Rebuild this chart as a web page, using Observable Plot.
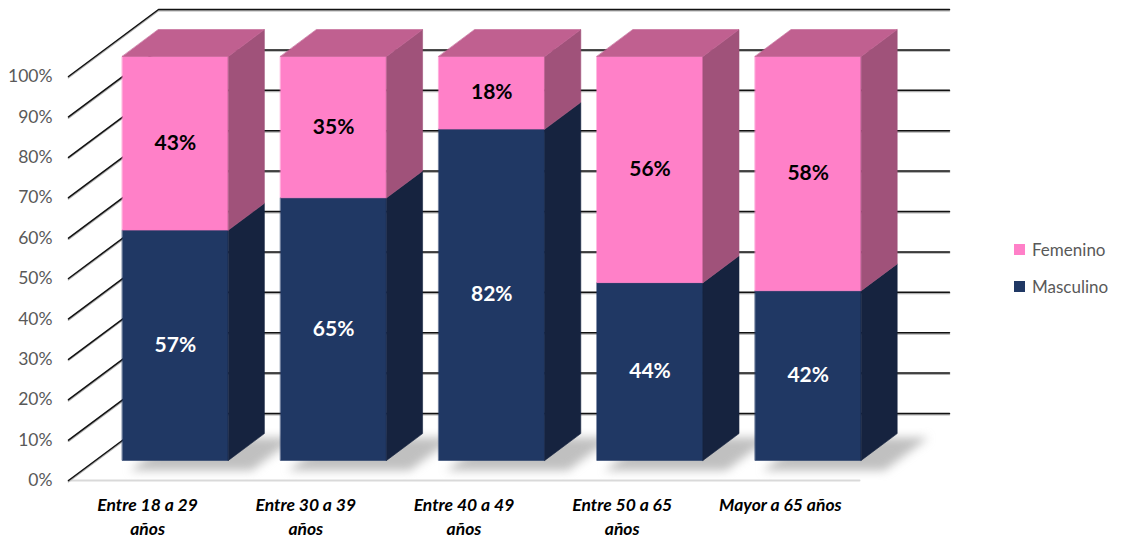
<!DOCTYPE html>
<html>
<head>
<meta charset="utf-8">
<script src="https://cdn.jsdelivr.net/npm/d3@7"></script>
<script src="https://cdn.jsdelivr.net/npm/@observablehq/plot@0.6"></script>
<style>
  html, body { margin: 0; padding: 0; background: #fff; }
  #wrap { position: relative; width: 1121px; height: 540px; font-family: Lato, "Open Sans", sans-serif; }
  #legend { position: absolute; left: 1014px; top: 239px; color: #595959; font-size: 17px; }
  #legend .item { display: flex; align-items: center; height: 20px; margin-bottom: 17px; }
  #legend .sw { width: 11px; height: 11px; margin-right: 7px; }
</style>
</head>
<body>
<div id="wrap">
  <div id="chart"></div>
  <div id="legend"></div>
</div>
<script>
// ---- data ----
const categories = ["Entre 18 a 29\naños", "Entre 30 a 39\naños", "Entre 40 a 49\naños", "Entre 50 a 65\naños", "Mayor a 65 años"];
const masculino = [57, 65, 82, 44, 42];
const femenino = [43, 35, 18, 56, 58];
const yTicks = [0, 10, 20, 30, 40, 50, 60, 70, 80, 90, 100];
const seriesNames = ["Femenino", "Masculino"];
const palette = {
  Femenino: {front: "#FF80C8", side: "#A0527A", top: "#C06090"},
  Masculino: {front: "#203864", side: "#16233F", top: "#2B4A80"}
};

// ---- 3D projection helpers (depth expressed in data units) ----
const DX = 90 / 158.2;   // x shift of full depth (category units)
const DY = 67 / 4.04;    // y shift of full depth (percent units)
const proj = (x, y, z) => ({x: x + DX * z, y: y + DY * z});
const Z0 = 0.3, Z1 = 0.7;       // bar depth range
const BX0 = 0.17, BX1 = 0.84;   // bar extent within a category band

// segments of the stacked bars
const segments = [];
categories.forEach((c, i) => {
  segments.push({series: "Masculino", i, y0: 0, y1: masculino[i], value: masculino[i], top: false});
  segments.push({series: "Femenino", i, y0: masculino[i], y1: masculino[i] + femenino[i], value: femenino[i], top: true});
});

function poly(id, corners) {
  return corners.map(([x, y, z]) => ({id, ...proj(x, y, z)}));
}

const faces = {};
for (const s of seriesNames) for (const f of ["front", "side", "top"]) faces[s + "|" + f] = [];
segments.forEach((d, k) => {
  const x0 = d.i + BX0, x1 = d.i + BX1;
  faces[d.series + "|front"].push(...poly(k, [[x0, d.y0, Z0], [x1, d.y0, Z0], [x1, d.y1, Z0], [x0, d.y1, Z0]]));
  faces[d.series + "|side"].push(...poly(k, [[x1, d.y0, Z0], [x1, d.y0, Z1], [x1, d.y1, Z1], [x1, d.y1, Z0]]));
  if (d.top) faces[d.series + "|top"].push(...poly(k, [[x0, d.y1, Z0], [x1, d.y1, Z0], [x1, d.y1, Z1], [x0, d.y1, Z1]]));
});

// shadows on the floor
const shadows = [];
categories.forEach((c, i) => {
  shadows.push(...poly(i, [[i + BX0 + 0.06, 0, Z0 - 0.09], [i + BX1 + 0.16, 0, Z0 - 0.09], [i + BX1 + 0.16, 0, Z1], [i + BX0 + 0.06, 0, Z1]]));
});

// gridlines: side wall diagonal + back wall horizontal
const grid = [];
yTicks.forEach(t => grid.push(...poly(t, [[0, t, 0], [0, t, 1], [categories.length, t, 1]])));
const floorFront = poly("f", [[0, 0, 0], [categories.length, 0, 0]]);

// labels
const valueLabels = segments.map(d => ({...proj(d.i + 0.505, (d.y0 + d.y1) / 2, Z0), text: d.value + "%", series: d.series}));
const catLabels = categories.map((c, i) => ({x: i + 0.5, y: 0, text: c}));

const faceMarks = [];
for (const s of ["Masculino", "Femenino"]) {
  for (const f of ["front", "side", "top"]) {
    const data = faces[s + "|" + f];
    if (!data.length) continue;
    faceMarks.push(Plot.line(data, {x: "x", y: "y", z: "id", curve: "linear-closed",
      fill: palette[s][f], stroke: palette[s][f], strokeWidth: 0.6}));
  }
}

const chart = Plot.plot({
  width: 1121,
  height: 540,
  marginLeft: 68,
  marginRight: 262,
  marginTop: 76,
  marginBottom: 60,
  style: {fontFamily: "Lato, 'Open Sans', sans-serif", background: "#fff"},
  x: {type: "linear", domain: [0, categories.length], axis: null},
  y: {type: "linear", domain: [0, 100], axis: null},
  marks: [
    Plot.line(shadows, {x: "x", y: "y", z: "id", curve: "linear-closed", fill: "#8c8c8c", fillOpacity: 0.55,
      stroke: "none", dx: 6, dy: 4, ariaDescription: "shadow"}),
    Plot.line(floorFront, {x: "x", y: "y", z: "id", stroke: "#d9d9d9", strokeWidth: 2}),
    Plot.line(grid, {x: "x", y: "y", z: "id", stroke: "#b0b0b0", strokeWidth: 1.5, dy: 1.2}),
    Plot.line(grid, {x: "x", y: "y", z: "id", stroke: "#111", strokeWidth: 1.5}),
    ...faceMarks,
    Plot.text(valueLabels, {x: "x", y: "y", text: "text", fontSize: 21, fontWeight: "bold",
      fill: d => d.series === "Masculino" ? "#ffffff" : "#000000"}),
    Plot.text(catLabels, {x: "x", y: "y", text: "text", fontSize: 17.5, fontWeight: "bold", fontStyle: "italic",
      fill: "#000", lineAnchor: "top", dy: 14, lineHeight: 1.35}),
    Plot.axisY(yTicks, {tickSize: 0, tickPadding: 16, tickFormat: d => d + "%", fontSize: 17.5, color: "#595959", label: null})
  ]
});
document.getElementById("chart").appendChild(chart);
d3.select(chart).selectAll('[aria-description="shadow"]').style("filter", "blur(5px)");

// legend
const legend = d3.select("#legend");
for (const s of seriesNames) {
  const it = legend.append("div").attr("class", "item");
  it.append("div").attr("class", "sw").style("background", palette[s].front);
  it.append("span").text(s);
}
</script>
</body>
</html>
